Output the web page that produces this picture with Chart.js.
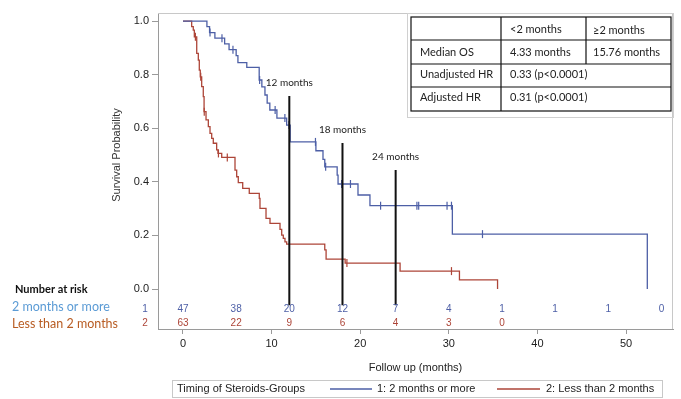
<!DOCTYPE html>
<html>
<head>
<meta charset="utf-8">
<script src="https://cdn.jsdelivr.net/npm/chart.js@4.4.0/dist/chart.umd.min.js"></script>
<style>
  html, body { margin: 0; padding: 0; background: #fff; }
  #wrap { width: 681px; height: 399px; position: relative; }
</style>
</head>
<body>
<div id="wrap"><canvas id="km"></canvas></div>
<script>
// Kaplan-Meier steps: time (months) where survival drops, and survival after the drop
const blueTimes = [0, 2.7, 3.0, 3.6, 4.7, 5.2, 6.0, 6.2, 7.2, 8.6, 8.9, 9.25, 9.5, 9.8, 10.6, 11.7, 12.1, 15.0, 15.8, 16.0, 17.4, 17.5, 19.75, 21.1, 30.4, 52.4];
const blueSurv  = [1.0, 0.979, 0.957, 0.936, 0.915, 0.893, 0.871, 0.845, 0.827, 0.78, 0.754, 0.724, 0.694, 0.668, 0.638, 0.612, 0.549, 0.516, 0.484, 0.456, 0.425, 0.392, 0.351, 0.311, 0.205, 0];
const blueCensor = [3.05, 4.4, 5.64, 8.65, 10.4, 11.5, 11.96, 14.95, 16.1, 17.9, 18.9, 22.3, 26.4, 26.6, 29.8, 30.3, 33.8];

const redTimes = [0, 0.98, 1.16, 1.28, 1.55, 1.73, 1.84, 1.95, 2.11, 2.29, 2.38, 2.6, 2.86, 3.05, 3.24, 3.42, 3.8, 3.95, 4.37, 5.87, 6.06, 6.24, 6.74, 7.48, 8.61, 8.69, 9.37, 9.82, 10.95, 11.14, 11.32, 11.51, 11.7, 16.0, 16.15, 18.3, 24.5, 31.2, 35.5];
const redSurv  = [1.0, 0.979, 0.966, 0.941, 0.879, 0.854, 0.817, 0.792, 0.755, 0.718, 0.662, 0.631, 0.606, 0.581, 0.562, 0.544, 0.519, 0.506, 0.491, 0.444, 0.419, 0.397, 0.376, 0.357, 0.338, 0.301, 0.264, 0.245, 0.223, 0.201, 0.189, 0.176, 0.168, 0.146, 0.112, 0.097, 0.067, 0.034, 0];
const redCensor = [1.4, 2.0, 2.4, 4.0, 5.0, 18.5, 30.3];

// reference lines
const refMonths = [12, 18, 24];
const refTops = [0.72, 0.545, 0.444];
const refBottom = -0.06;
const refLabels = ['12 months', '18 months', '24 months'];

// number at risk
const riskTimes = [0, 6, 12, 18, 24, 30, 36, 42, 48, 54];
const riskBlue = [47, 38, 20, 12, 7, 4, 1, 1, 1, 0];
const riskRed = [63, 22, 9, 6, 4, 3, 0];

const xTicks = [0, 10, 20, 30, 40, 50];
const yTicks = [0, 0.2, 0.4, 0.6, 0.8, 1.0];

const BLUE = '#4d5fa6';
const RED = '#ad4538';

function pts(times, surv) {
    return times.map((t, i) => ({ x: t, y: surv[i] }));
}

// survival level at time t (for placing the censor marks on the curve)
function survAt(times, surv, t) {
    let s = surv[0];
    for (let i = 0; i < times.length; i++) {
        if (times[i] <= t) s = surv[i];
    }
    return s;
}

const refSets = refMonths.map((m, i) => ({
    data: [{ x: m, y: refTops[i] }, { x: m, y: refBottom }],
    borderColor: '#111',
    borderWidth: 2,
    pointRadius: 0,
    order: 0
}));

const extras = {
    id: 'extras',
    afterDraw(chart) {
        const { ctx, chartArea: a, scales: { x, y } } = chart;
        ctx.save();

        // top / right frame
        ctx.strokeStyle = '#c8c8c8';
        ctx.lineWidth = 1;
        ctx.beginPath();
        ctx.moveTo(a.left, a.top + 0.5);
        ctx.lineTo(a.right - 0.5, a.top + 0.5);
        ctx.lineTo(a.right - 0.5, a.bottom);
        ctx.stroke();

        // y axis title
        ctx.fillStyle = '#333';
        ctx.font = '11px "Liberation Sans", Arial, sans-serif';
        ctx.textAlign = 'center';
        ctx.textBaseline = 'middle';
        ctx.save();
        ctx.translate(117, (y.getPixelForValue(0) + y.getPixelForValue(1)) / 2);
        ctx.rotate(-Math.PI / 2);
        ctx.fillText('Survival Probability', 0, 0);
        ctx.restore();

        // reference line labels
        ctx.fillStyle = '#222';
        ctx.font = '10px Lato, "Open Sans", sans-serif';
        refMonths.forEach((m, i) => {
            ctx.fillText(refLabels[i], x.getPixelForValue(m), y.getPixelForValue(refTops[i]) - 13);
        });

        // number at risk
        ctx.textAlign = 'left';
        ctx.fillStyle = '#111';
        ctx.font = 'bold 11px Lato, sans-serif';
        ctx.fillText('Number at risk', 15, 289);
        ctx.font = '12.5px Lato, sans-serif';
        ctx.fillStyle = '#5b9bd5';
        ctx.fillText('2 months or more', 12, 307);
        ctx.fillStyle = '#b85c23';
        ctx.fillText('Less than 2 months', 12, 324);

        ctx.textAlign = 'center';
        ctx.font = '10px "Liberation Sans", Arial, sans-serif';
        ctx.fillStyle = BLUE;
        ctx.fillText('1', 145, 309);
        riskBlue.forEach((n, i) => ctx.fillText(String(n), x.getPixelForValue(riskTimes[i]), 309));
        ctx.fillStyle = RED;
        ctx.fillText('2', 145, 323);
        riskRed.forEach((n, i) => ctx.fillText(String(n), x.getPixelForValue(riskTimes[i]), 323));

        // table
        ctx.strokeStyle = '#d0d0d0';
        ctx.lineWidth = 1;
        ctx.strokeRect(407.5, 13.5, 266, 104);
        ctx.strokeStyle = '#111';
        ctx.lineWidth = 1.2;
        ctx.strokeRect(411, 17, 260, 94);
        ctx.beginPath();
        [40, 64, 87].forEach(yy => { ctx.moveTo(411, yy); ctx.lineTo(671, yy); });
        ctx.moveTo(501, 17); ctx.lineTo(501, 111);
        ctx.moveTo(586, 17); ctx.lineTo(586, 64);
        ctx.stroke();

        ctx.textAlign = 'left';
        ctx.fillStyle = '#222';
        ctx.font = '11px Lato, "Open Sans", sans-serif';
        ctx.fillText('<2 months', 510, 29);
        ctx.fillText('\u22652 months', 593, 30);
        ctx.fillText('Median OS', 420, 52);
        ctx.fillText('4.33 months', 510, 52);
        ctx.fillText('15.76 months', 593, 52);
        ctx.fillText('Unadjusted HR', 420, 74);
        ctx.fillText('0.33 (p<0.0001)', 510, 74);
        ctx.fillText('Adjusted HR', 420, 97);
        ctx.fillText('0.31 (p<0.0001)', 510, 97);

        // legend
        ctx.strokeStyle = '#c8c8c8';
        ctx.lineWidth = 1;
        ctx.strokeRect(172.5, 380.5, 490, 17);
        ctx.font = '11px "Liberation Sans", Arial, sans-serif';
        ctx.fillStyle = '#222';
        ctx.fillText('Timing of Steroids-Groups', 177, 389);
        ctx.fillText('1: 2 months or more', 377, 389);
        ctx.fillText('2: Less than 2 months', 546, 389);
        ctx.lineWidth = 1.5;
        ctx.strokeStyle = BLUE;
        ctx.beginPath(); ctx.moveTo(330, 389); ctx.lineTo(372, 389); ctx.stroke();
        ctx.strokeStyle = RED;
        ctx.beginPath(); ctx.moveTo(497, 389); ctx.lineTo(540, 389); ctx.stroke();

        ctx.restore();
    }
};

const ctx = document.getElementById('km').getContext('2d');
new Chart(ctx, {
    type: 'line',
    data: {
        datasets: [
            {
                label: '1: 2 months or more',
                data: pts(blueTimes, blueSurv),
                borderColor: BLUE,
                borderWidth: 1.3,
                stepped: 'before',
                pointRadius: 0,
                order: 2
            },
            {
                label: '2: Less than 2 months',
                data: pts(redTimes, redSurv),
                borderColor: RED,
                borderWidth: 1.3,
                stepped: 'before',
                pointRadius: 0,
                order: 3
            },
            {
                type: 'scatter',
                data: blueCensor.map(t => ({ x: t, y: survAt(blueTimes, blueSurv, t) })),
                borderColor: BLUE,
                pointStyle: 'line',
                rotation: 90,
                pointRadius: 4,
                borderWidth: 1.2,
                order: 1
            },
            {
                type: 'scatter',
                data: redCensor.map(t => ({ x: t, y: survAt(redTimes, redSurv, t) })),
                borderColor: RED,
                pointStyle: 'line',
                rotation: 90,
                pointRadius: 4,
                borderWidth: 1.2,
                order: 1
            },
            ...refSets
        ]
    },
    options: {
        responsive: true,
        maintainAspectRatio: false,
        animation: false,
        layout: { padding: { top: 13, right: 8, left: 0, bottom: 0 } },
        plugins: {
            legend: { display: false },
            tooltip: { enabled: false }
        },
        scales: {
            x: {
                type: 'linear',
                min: -2.82,
                max: 55.3,
                afterBuildTicks: s => { s.ticks = xTicks.map(v => ({ value: v })); },
                afterFit: s => { s.height = 70; },
                grid: { drawOnChartArea: false, tickLength: 5, color: '#9a9a9a' },
                border: { color: '#9a9a9a' },
                ticks: {
                    font: { family: 'Liberation Sans', size: 11 },
                    color: '#222',
                    padding: 3,
                    maxRotation: 0
                },
                title: {
                    display: true,
                    text: 'Follow up (months)',
                    font: { family: 'Liberation Sans', size: 11 },
                    color: '#222',
                    padding: { top: 0, bottom: 24 }
                }
            },
            y: {
                type: 'linear',
                min: -0.149,
                max: 1.03,
                afterBuildTicks: s => { s.ticks = yTicks.map(v => ({ value: v })); },
                afterFit: s => { s.width = 158; },
                grid: { drawOnChartArea: false, tickLength: 6, color: '#9a9a9a' },
                border: { color: '#9a9a9a' },
                ticks: {
                    font: { family: 'Liberation Sans', size: 11 },
                    color: '#222',
                    padding: 3,
                    callback: v => v.toFixed(1)
                }
            }
        }
    },
    plugins: [extras]
});
</script>
</body>
</html>
